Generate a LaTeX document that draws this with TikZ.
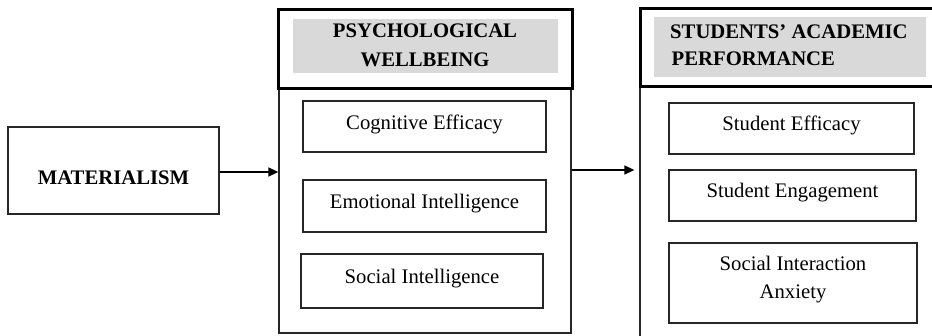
\documentclass[tikz,border=0pt]{standalone}
\usepackage{fontspec}
\setmainfont{Liberation Serif}
\usetikzlibrary{arrows.meta}
\definecolor{headgray}{HTML}{D9D9D9}
\tikzset{
  box/.style={draw=black!85, line width=1.3pt, inner sep=0pt, rectangle},
  thickbox/.style={draw=black, line width=3pt, inner sep=0pt, rectangle},
  txt/.style={anchor=base, inner sep=0pt, font=\fontsize{20.7}{28}\selectfont},
  btxt/.style={txt, font=\fontsize{20.7}{28}\selectfont\bfseries},
  arr/.style={line width=1.5pt, -{Triangle[length=10pt,width=9pt]}},
}
\begin{document}
\begin{tikzpicture}[x=1pt,y=-1pt]
\useasboundingbox (0,0) rectangle (932,335);
\clip (0,0) rectangle (932,335);
% left box
\node[box, minimum width=211pt, minimum height=87pt] (mat) at (113.5,170.5) {};
\node[btxt] (matT) at (113.5,184) {MATERIALISM};
% middle
\node[box, minimum width=292pt, minimum height=245pt] (pwbody) at (425,210.5) {};
\node[thickbox, minimum width=294pt, minimum height=79pt] (pwhead) at (425,48.5) {};
\node[fill=headgray, inner sep=0pt, minimum width=265pt, minimum height=54pt] (pwfill) at (425.5,46) {};
\node[btxt, align=center] (pwT1) at (425,37.7) {PSYCHOLOGICAL};
\node[btxt, align=center] (pwT2) at (425,66) {WELLBEING};
\node[box, minimum width=243pt, minimum height=51pt] (cog) at (424.5,126.5) {};
\node[txt] (cogT) at (424.5,129.5) {Cognitive Efficacy};
\node[box, minimum width=243pt, minimum height=52pt] (emo) at (424.5,206) {};
\node[txt] (emoT) at (424.5,208) {Emotional Intelligence};
\node[box, minimum width=242pt, minimum height=54pt] (soc) at (422,281) {};
\node[txt] (socT) at (422,283) {Social Intelligence};
% right
\node[box, minimum width=320pt, minimum height=259pt] (sabody) at (800,215.5) {};
\node[thickbox, minimum width=320pt, minimum height=78pt] (sahead) at (800,47) {};
\node[fill=headgray, inner sep=0pt, minimum width=272pt, minimum height=60pt] (safill) at (790,47) {};
\node[btxt, anchor=base west] (saT1) at (670,38) {STUDENTS’ ACADEMIC};
\node[btxt, anchor=base west] (saT2) at (671.5,65) {PERFORMANCE};
\node[box, minimum width=245pt, minimum height=51pt] (sef) at (791.5,128.5) {};
\node[txt] (sefT) at (791.5,130.7) {Student Efficacy};
\node[box, minimum width=247pt, minimum height=51pt] (sen) at (792.5,195.5) {};
\node[txt] (senT) at (792.5,197) {Student Engagement};
\node[box, minimum width=248pt, minimum height=80pt] (sia) at (793,283) {};
\node[txt] (siaT1) at (793,270.7) {Social Interaction};
\node[txt] (siaT2) at (793,298) {Anxiety};
% arrows
\draw[arr] (mat.east |- 0,172) -- (pwbody.west |- 0,172);
\draw[arr, shorten >=5pt] (pwbody.east |- 0,170) -- (sabody.west |- 0,170);
\end{tikzpicture}
\end{document}
